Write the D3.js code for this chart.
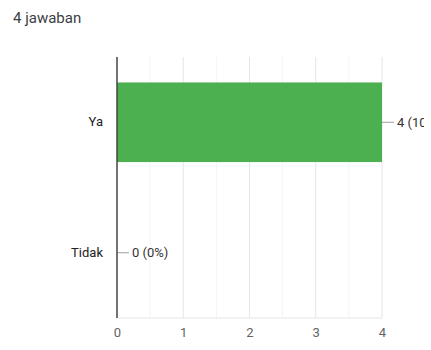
<!DOCTYPE html>
<html>
<head>
<meta charset="utf-8">
<script src="https://cdn.jsdelivr.net/npm/d3@7/dist/d3.min.js"></script>
<style>
  html, body { margin: 0; padding: 0; background: #fff; }
  svg { display: block; font-family: Roboto, "Noto Sans", Arial, sans-serif; }
</style>
</head>
<body>
<div id="chart"></div>
<script>
// Response summary data
const categories = ["Ya", "Tidak"];
const counts = [4, 0];
const valueLabels = ["4 (100%)", "0 (0%)"];
const xTicks = [0, 1, 2, 3, 4];
const totalLabel = "4 jawaban";

const width = 431, height = 350;
const plot = { left: 117, right: 382, top: 57, bottom: 318 };
const font = "Roboto, 'Noto Sans', Arial, sans-serif";

const svg = d3.select("#chart").append("svg")
  .attr("width", width)
  .attr("height", height);

// the chart area ends before the page edge, so long value labels are cut there
svg.append("defs").append("clipPath").attr("id", "clip")
  .append("rect").attr("x", 0).attr("y", 0).attr("width", 424).attr("height", height);

svg.append("text")
  .attr("x", 13).attr("y", 23)
  .attr("font-size", 15)
  .attr("fill", "#3c4043")
  .text(totalLabel);

const x = d3.scaleLinear().domain([0, 4]).range([plot.left, plot.right]);
const y = d3.scaleBand().domain(categories).range([plot.top, plot.bottom])
  .paddingInner(0.39).paddingOuter(0.195);

// minor gridlines at half steps
const minor = d3.range(0.5, 4, 1);
svg.append("g").selectAll("line").data(minor).join("line")
  .attr("x1", d => x(d)).attr("x2", d => x(d))
  .attr("y1", plot.top).attr("y2", plot.bottom)
  .attr("stroke", "#f4f4f4").attr("stroke-width", 1);

// major gridlines
svg.append("g").selectAll("line").data(xTicks.slice(1)).join("line")
  .attr("x1", d => x(d)).attr("x2", d => x(d))
  .attr("y1", plot.top).attr("y2", plot.bottom)
  .attr("stroke", "#e6e6e6").attr("stroke-width", 1);

// baseline
svg.append("line")
  .attr("x1", plot.left).attr("x2", plot.right)
  .attr("y1", plot.bottom).attr("y2", plot.bottom)
  .attr("stroke", "#e6e6e6");

// x axis tick labels
const xAxis = d3.axisBottom(x).tickValues(xTicks).tickFormat(d3.format("d")).tickSize(0).tickPadding(10);
const gx = svg.append("g").attr("transform", `translate(0,${plot.bottom})`).call(xAxis);
gx.select(".domain").remove();
gx.selectAll("text").attr("font-size", 13).attr("fill", "#5f6368").attr("font-family", font);

// bars
svg.append("g").selectAll("rect").data(categories).join("rect")
  .attr("x", x(0))
  .attr("y", d => y(d))
  .attr("width", (d, i) => x(counts[i]) - x(0))
  .attr("height", y.bandwidth())
  .attr("fill", "#4caf50");

// category labels
const yAxis = d3.axisLeft(y).tickSize(0).tickPadding(14);
const gy = svg.append("g").attr("transform", `translate(${plot.left},0)`).call(yAxis);
gy.select(".domain").remove();
gy.selectAll("text").attr("font-size", 13).attr("fill", "#222").attr("font-family", font);

// value annotations
const ann = svg.append("g").attr("clip-path", "url(#clip)");
ann.selectAll("line").data(categories).join("line")
  .attr("x1", (d, i) => x(counts[i]))
  .attr("x2", (d, i) => x(counts[i]) + 12)
  .attr("y1", d => y(d) + y.bandwidth() / 2)
  .attr("y2", d => y(d) + y.bandwidth() / 2)
  .attr("stroke", "#9e9e9e").attr("stroke-width", 1);
ann.selectAll("text").data(categories).join("text")
  .attr("x", (d, i) => x(counts[i]) + 15)
  .attr("y", d => y(d) + y.bandwidth() / 2)
  .attr("dy", "0.35em")
  .attr("font-size", 13)
  .attr("fill", "#333")
  .text((d, i) => valueLabels[i]);

// vertical axis line
svg.append("line")
  .attr("x1", plot.left).attr("x2", plot.left)
  .attr("y1", plot.top).attr("y2", plot.bottom)
  .attr("stroke", "#444").attr("stroke-width", 1.5);
</script>
</body>
</html>
